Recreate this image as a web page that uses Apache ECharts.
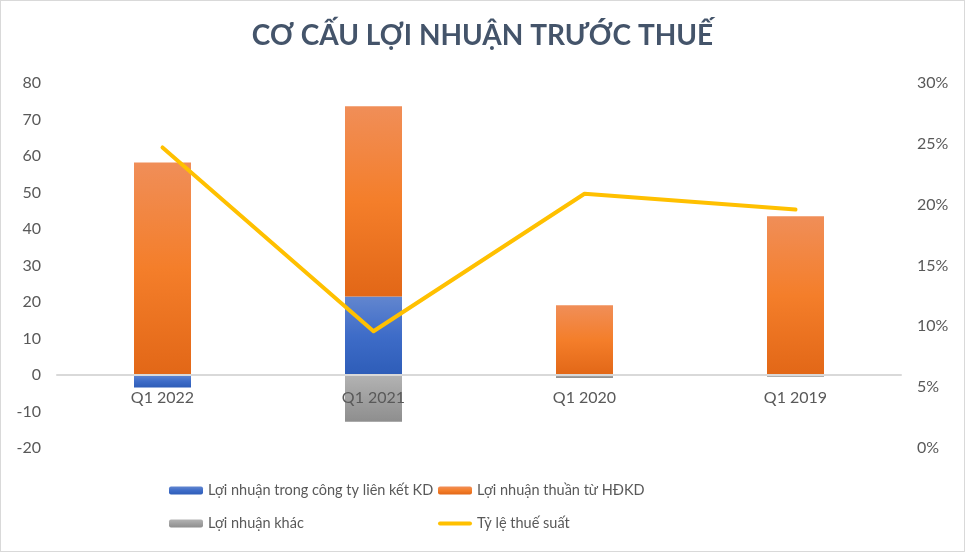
<!DOCTYPE html>
<html><head><meta charset="utf-8">
<script src="https://cdn.jsdelivr.net/npm/echarts@6/dist/echarts.min.js"></script>
<style>html,body{margin:0;padding:0;background:#fff}#c{width:965px;height:552px;box-sizing:border-box;border:1px solid #d9d9d9}</style>
</head><body><div id="c"></div>
<script>
const categories = ['Q1 2022', 'Q1 2021', 'Q1 2020', 'Q1 2019'];
const lnLienKet = [-3.4, 21.5, 0, 0];
const lnThuan = [58.2, 52.1, 19.1, 43.5];
const lnKhac = [0, -12.8, -0.8, -0.5];
const thueSuat = [0.247, 0.096, 0.209, 0.196];

const font = 'Lato, "Open Sans", sans-serif';
const txt = '#595959';
function grad(a, b, c) {
  return new echarts.graphic.LinearGradient(0, 0, 0, 1, [
    {offset: 0, color: a}, {offset: 0.5, color: b}, {offset: 1, color: c}]);
}
const lineIcon = 'path://M2,0 L32,0 A2,2 0 0 1 32,4 L2,4 A2,2 0 0 1 2,0 Z';
const legText = {fontFamily: font, fontSize: 14.5, color: txt};
const chart = echarts.init(document.getElementById('c'));
chart.setOption({
  animation: false,
  title: {text: 'CƠ CẤU LỢI NHUẬN TRƯỚC THUẾ', left: 'center', top: 16,
    textStyle: {fontFamily: font, fontWeight: 'bold', fontSize: 28, color: '#44546A'}},
  grid: {left: 56, right: 63, top: 82, bottom: 103},
  legend: [
    {data: ['Lợi nhuận trong công ty liên kết KD', 'Lợi nhuận khác'], orient: 'vertical',
      left: 163, top: 477, itemGap: 18, itemWidth: 34, itemHeight: 8, textStyle: legText},
    {data: ['Lợi nhuận thuần từ HĐKD', {name: 'Tỷ lệ thuế suất', icon: lineIcon}], orient: 'vertical',
      left: 432, top: 477, itemGap: 18, itemWidth: 34, itemHeight: 8, textStyle: legText}
  ],
  xAxis: {type: 'category', data: categories, z: 10,
    axisLine: {onZero: true, lineStyle: {color: '#D9D9D9', width: 2}},
    axisTick: {show: false},
    axisLabel: {fontFamily: font, fontSize: 16, color: txt, margin: -58}},
  yAxis: [
    {type: 'value', min: -20, max: 80, interval: 10, splitLine: {show: false},
      axisLine: {show: false}, axisTick: {show: false},
      axisLabel: {fontFamily: font, fontSize: 16, color: txt, margin: 16}},
    {type: 'value', min: 0, max: 0.3, interval: 0.05, splitLine: {show: false},
      axisLine: {show: false}, axisTick: {show: false},
      axisLabel: {fontFamily: font, fontSize: 16, color: txt, margin: 16,
        formatter: v => Math.round(v * 100) + '%'}}
  ],
  series: [
    {name: 'Lợi nhuận trong công ty liên kết KD', type: 'bar', stack: 's', data: lnLienKet,
      barWidth: 57, itemStyle: {color: grad('#6286CF', '#3E6CC8', '#2E5DB8')}},
    {name: 'Lợi nhuận thuần từ HĐKD', type: 'bar', stack: 's', data: lnThuan,
      barWidth: 57, itemStyle: {color: grad('#F08E58', '#F47E2A', '#E26717')}},
    {name: 'Lợi nhuận khác', type: 'bar', stack: 's', data: lnKhac,
      barWidth: 57, itemStyle: {color: grad('#B3B3B3', '#A0A0A0', '#8E8E8E')}},
    {name: 'Tỷ lệ thuế suất', type: 'line', yAxisIndex: 1, data: thueSuat, z: 12,
      symbol: 'none', lineStyle: {color: '#FFC000', width: 4, cap: 'round', join: 'round'},
      itemStyle: {color: '#FFC000'}}
  ]
});
</script></body></html>
